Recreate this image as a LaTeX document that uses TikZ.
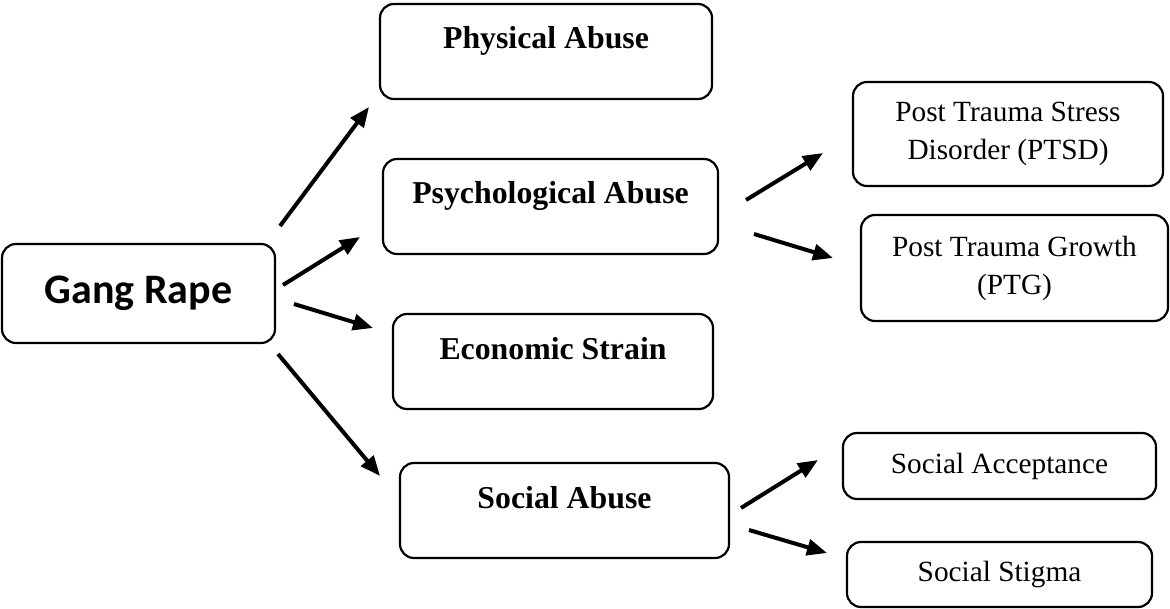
\documentclass[tikz,border=0pt]{standalone}
\usepackage{fontspec}
\setmainfont{Liberation Serif}
\newfontfamily\calibri{Carlito}
\usetikzlibrary{arrows.meta}

\begin{document}
\begin{tikzpicture}
	[x=0.5pt,y=-0.5pt,
	caja/.style={draw=black,rounded corners=7pt,line width=1.1pt,
		inner sep=0pt,align=center,font=\fontsize{14.65}{19}\selectfont},
	caja1/.style={caja,font=\fontsize{15.9}{19}\selectfont\bfseries,
		text height=22.5pt,text depth=25pt},
	caja2/.style={caja,font=\calibri\fontsize{21}{25}\selectfont\bfseries},
	flecha/.style={-{Triangle[length=10pt,width=8pt]},line width=2pt}]
	\useasboundingbox (0,0) rectangle (1170,609);
	%cajas
	\node (gang) at (138.5,293.5) [caja2,minimum width=136.5pt,minimum height=49.5pt] {Gang Rape};
	\node (fisico) at (546,51.5) [caja1,minimum width=166pt] {Physical Abuse};
	\node (psico) at (550.5,206.5) [caja1,minimum width=167.5pt] {Psychological Abuse};
	\node (econ) at (553,361.5) [caja1,minimum width=160pt] {Economic Strain};
	\node (social) at (564.5,510.5) [caja1,minimum width=164.5pt] {Social Abuse};
	\node (ptsd) at (1008,134) [caja,minimum width=155pt,minimum height=52pt] {Post Trauma Stress\\Disorder (PTSD)};
	\node (ptg) at (1014.5,268) [caja,minimum width=153.5pt,minimum height=53pt] {Post Trauma Growth\\(PTG)};
	\node (acept) at (999.5,466) [caja,minimum width=156.5pt,minimum height=33pt] {Social Acceptance};
	\node (estigma) at (999.5,574.5) [caja,minimum width=152.5pt,minimum height=32.5pt] {Social Stigma};
	%extremos de las flechas
	\coordinate (f1a) at (280,226); \coordinate (f1b) at (369,107);
	\coordinate (f2a) at (283,285); \coordinate (f2b) at (360,237);
	\coordinate (f3a) at (294,304); \coordinate (f3b) at (373,328);
	\coordinate (f4a) at (278,354); \coordinate (f4b) at (380,476);
	\coordinate (f5a) at (746,200); \coordinate (f5b) at (823,153);
	\coordinate (f6a) at (754,234); \coordinate (f6b) at (833,258);
	\coordinate (f7a) at (741,508); \coordinate (f7b) at (818,460);
	\coordinate (f8a) at (749,530); \coordinate (f8b) at (827,553);
	%flechas
	\draw[flecha] (f1a) -- (f1b);
	\draw[flecha] (f2a) -- (f2b);
	\draw[flecha] (f3a) -- (f3b);
	\draw[flecha] (f4a) -- (f4b);
	\draw[flecha] (f5a) -- (f5b);
	\draw[flecha] (f6a) -- (f6b);
	\draw[flecha] (f7a) -- (f7b);
	\draw[flecha] (f8a) -- (f8b);
\end{tikzpicture}
\end{document}
